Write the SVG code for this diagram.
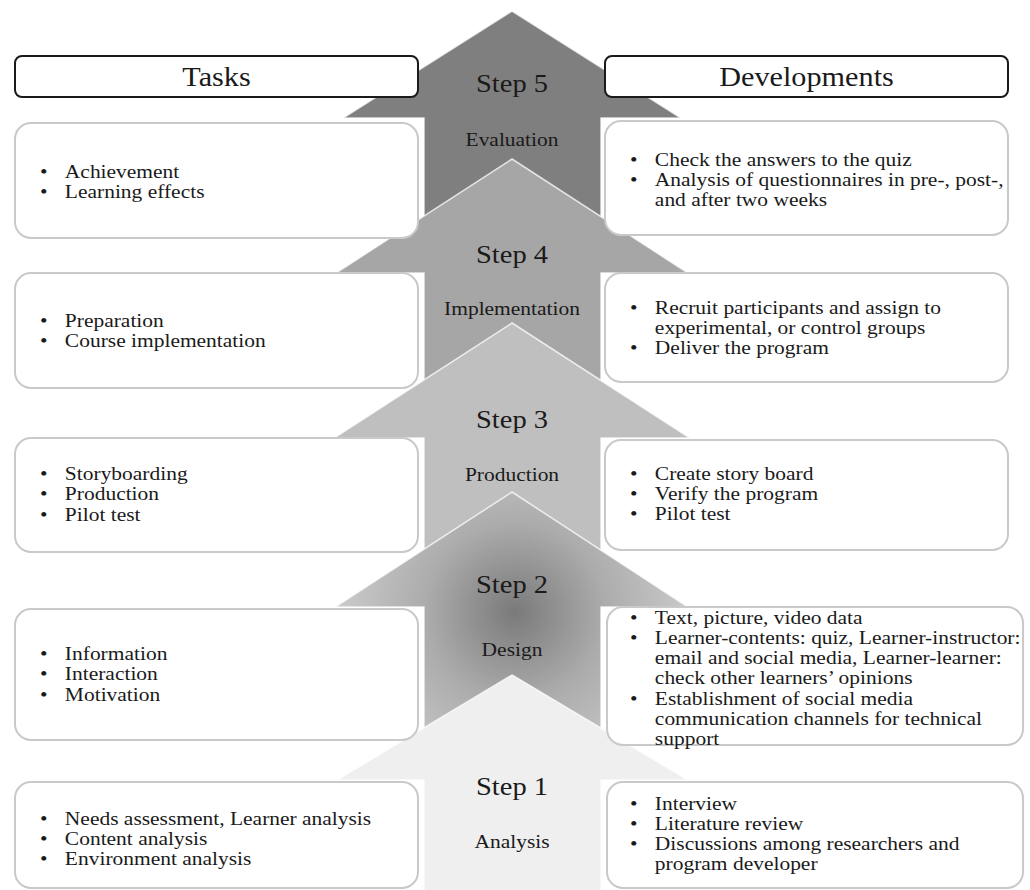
<svg xmlns="http://www.w3.org/2000/svg" width="1030" height="890" viewBox="0 0 1030 890">
<style>
text{font-family:"Liberation Serif","Times New Roman",serif;fill:#1a1a1a}
.hd{font-size:27px}
.st{font-size:25px}
.sb{font-size:19px}
.b{font-size:19px}
.arr{stroke:#ffffff;stroke-opacity:0.75;stroke-width:1.5}
.box{fill:#ffffff;stroke:#c9c9c9;stroke-width:2}
.hbox{fill:#ffffff;stroke:#1a1a1a;stroke-width:2}
</style>
<defs>
<radialGradient id="g2" gradientUnits="userSpaceOnUse" cx="515" cy="612" r="200">
<stop offset="0" stop-color="#7a7a7a"/>
<stop offset="0.45" stop-color="#acacac"/>
<stop offset="1" stop-color="#d2d2d2"/>
</radialGradient>
</defs>
<rect width="1030" height="890" fill="#ffffff"/>
<g id="arrows">
<g id="step5">
<polygon class="arr" fill="#7f7f7f" points="512,11 681,118 601,118 601,890 424,890 424,118 343,118"/>
<text class="st" text-anchor="middle" transform="translate(512 92) scale(1.14 1)">Step 5</text>
<text class="sb" text-anchor="middle" transform="translate(512 146) scale(1.13 1)">Evaluation</text>
</g>
<g id="step4">
<polygon class="arr" fill="#a6a6a6" points="512,159 688,273 601,273 601,890 424,890 424,273 336,273"/>
<text class="st" text-anchor="middle" transform="translate(512 263) scale(1.14 1)">Step 4</text>
<text class="sb" text-anchor="middle" transform="translate(512 315) scale(1.13 1)">Implementation</text>
</g>
<g id="step3">
<polygon class="arr" fill="#bfbfbf" points="512,323 690,438 601,438 601,890 424,890 424,438 334,438"/>
<text class="st" text-anchor="middle" transform="translate(512 428) scale(1.14 1)">Step 3</text>
<text class="sb" text-anchor="middle" transform="translate(512 481) scale(1.13 1)">Production</text>
</g>
<g id="step2">
<polygon class="arr" fill="url(#g2)" points="512,492 688,607 601,607 601,890 424,890 424,607 335,607"/>
<text class="st" text-anchor="middle" transform="translate(512 593) scale(1.14 1)">Step 2</text>
<text class="sb" text-anchor="middle" transform="translate(512 656) scale(1.13 1)">Design</text>
</g>
<g id="step1">
<polygon class="arr" fill="#efefef" points="512,675 688,780 601,780 601,892 424,892 424,780 337,780"/>
<text class="st" text-anchor="middle" transform="translate(512 795) scale(1.14 1)">Step 1</text>
<text class="sb" text-anchor="middle" transform="translate(512 848) scale(1.13 1)">Analysis</text>
</g>
</g>
<g id="header-tasks">
<rect class="hbox" x="15" y="56" width="403" height="41" rx="7"/>
<text class="hd" text-anchor="middle" transform="translate(216.5 86) scale(1.12 1)">Tasks</text>
</g>
<g id="header-developments">
<rect class="hbox" x="605" y="56" width="403" height="41" rx="7"/>
<text class="hd" text-anchor="middle" transform="translate(806.5 86) scale(1.12 1)">Developments</text>
</g>
<g id="task5">
<rect class="box" x="15" y="123" width="403" height="115" rx="16"/>
<text class="b" transform="translate(40 178) scale(1.13 1)"><tspan x="0">•</tspan><tspan x="22">Achievement</tspan><tspan x="0" dy="20">•</tspan><tspan x="22">Learning effects</tspan></text>
</g>
<g id="dev5">
<rect class="box" x="605" y="121" width="403" height="114" rx="16"/>
<text class="b" transform="translate(630 166) scale(1.13 1)"><tspan x="0">•</tspan><tspan x="22">Check the answers to the quiz</tspan><tspan x="0" dy="20">•</tspan><tspan x="22">Analysis of questionnaires in pre-, post-,</tspan><tspan x="22" dy="20">and after two weeks</tspan></text>
</g>
<g id="task4">
<rect class="box" x="15" y="273" width="403" height="115" rx="16"/>
<text class="b" transform="translate(40 327) scale(1.13 1)"><tspan x="0">•</tspan><tspan x="22">Preparation</tspan><tspan x="0" dy="20">•</tspan><tspan x="22">Course implementation</tspan></text>
</g>
<g id="dev4">
<rect class="box" x="605" y="273" width="403" height="109" rx="16"/>
<text class="b" transform="translate(630 314) scale(1.13 1)"><tspan x="0">•</tspan><tspan x="22">Recruit participants and assign to</tspan><tspan x="22" dy="20">experimental, or control groups</tspan><tspan x="0" dy="20">•</tspan><tspan x="22">Deliver the program</tspan></text>
</g>
<g id="task3">
<rect class="box" x="15" y="438" width="403" height="114" rx="16"/>
<text class="b" transform="translate(40 480) scale(1.13 1)"><tspan x="0">•</tspan><tspan x="22">Storyboarding</tspan><tspan x="0" dy="20.5">•</tspan><tspan x="22">Production</tspan><tspan x="0" dy="20.5">•</tspan><tspan x="22">Pilot test</tspan></text>
</g>
<g id="dev3">
<rect class="box" x="605" y="440" width="403" height="110" rx="16"/>
<text class="b" transform="translate(630 480) scale(1.13 1)"><tspan x="0">•</tspan><tspan x="22">Create story board</tspan><tspan x="0" dy="20">•</tspan><tspan x="22">Verify the program</tspan><tspan x="0" dy="20">•</tspan><tspan x="22">Pilot test</tspan></text>
</g>
<g id="task2">
<rect class="box" x="15" y="609" width="403" height="131" rx="16"/>
<text class="b" transform="translate(40 660) scale(1.13 1)"><tspan x="0">•</tspan><tspan x="22">Information</tspan><tspan x="0" dy="20.5">•</tspan><tspan x="22">Interaction</tspan><tspan x="0" dy="20.5">•</tspan><tspan x="22">Motivation</tspan></text>
</g>
<g id="dev2">
<rect class="box" x="607" y="607" width="416" height="138" rx="16"/>
<text class="b" transform="translate(630 624) scale(1.13 1)"><tspan x="0">•</tspan><tspan x="22">Text, picture, video data</tspan><tspan x="0" dy="20.5">•</tspan><tspan x="22">Learner-contents: quiz, Learner-instructor:</tspan><tspan x="22" dy="20">email and social media, Learner-learner:</tspan><tspan x="22" dy="20">check other learners’ opinions</tspan><tspan x="0" dy="20.5">•</tspan><tspan x="22">Establishment of social media</tspan><tspan x="22" dy="20">communication channels for technical</tspan><tspan x="22" dy="20">support</tspan></text>
</g>
<g id="task1">
<rect class="box" x="15" y="782" width="403" height="106" rx="16"/>
<text class="b" transform="translate(40 825) scale(1.13 1)"><tspan x="0">•</tspan><tspan x="22">Needs assessment, Learner analysis</tspan><tspan x="0" dy="20">•</tspan><tspan x="22">Content analysis</tspan><tspan x="0" dy="20">•</tspan><tspan x="22">Environment analysis</tspan></text>
</g>
<g id="dev1">
<rect class="box" x="607" y="782" width="416" height="106" rx="16"/>
<text class="b" transform="translate(630 810) scale(1.13 1)"><tspan x="0">•</tspan><tspan x="22">Interview</tspan><tspan x="0" dy="20">•</tspan><tspan x="22">Literature review</tspan><tspan x="0" dy="20.5">•</tspan><tspan x="22">Discussions among researchers and</tspan><tspan x="22" dy="20">program developer</tspan></text>
</g>
</svg>
